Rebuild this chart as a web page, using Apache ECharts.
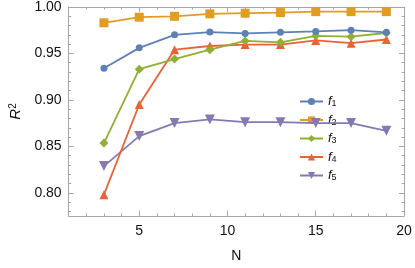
<!DOCTYPE html>
<html><head><meta charset="utf-8">
<script src="https://cdn.jsdelivr.net/npm/echarts@6/dist/echarts.min.js"></script>
<style>html,body{margin:0;padding:0;background:#fff}#c{width:415px;height:268px}</style>
</head><body><div id="c"></div>
<script>
const N = [3, 5, 7, 9, 11, 13, 15, 17, 19];
const f1 = [0.934, 0.956, 0.970, 0.973, 0.9716, 0.9727, 0.9737, 0.975, 0.9727];
const f2 = [0.983, 0.989, 0.990, 0.9926, 0.9933, 0.994, 0.995, 0.995, 0.995];
const f3 = [0.8535, 0.933, 0.944, 0.954, 0.9635, 0.962, 0.969, 0.968, 0.972];
const f4 = [0.798, 0.895, 0.954, 0.958, 0.9596, 0.9596, 0.964, 0.961, 0.965];
const f5 = [0.8287, 0.861, 0.875, 0.879, 0.876, 0.876, 0.875, 0.875, 0.8667];
const xMajor = [5, 10, 15, 20];
const xMinor = [1,2,3,4,5,6,7,8,9,10,11,12,13,14,15,16,17,18,19,20];
const yMajor = [0.80, 0.85, 0.90, 0.95, 1.00];
const yMinor = [0.78,0.79,0.80,0.81,0.82,0.83,0.84,0.85,0.86,0.87,0.88,0.89,0.90,0.91,0.92,0.93,0.94,0.95,0.96,0.97,0.98,0.99,1.00];

const font = 'Liberation Sans, Arial, sans-serif';
const frameColor = '#a6a6a6';
const tickColor = '#a6a6a6';

function xAx(pos, vals, len, labels, line) {
  return {
    type: 'value', position: pos, min: 1, max: 20,
    axisLine: {show: line, lineStyle: {color: frameColor, width: 1}},
    axisTick: {show: true, inside: true, length: len, customValues: vals, lineStyle: {color: tickColor}},
    axisLabel: {show: labels, customValues: xMajor, color: '#111', fontSize: 14, fontFamily: font, margin: 8},
    splitLine: {show: false}
  };
}
function yAx(pos, vals, len, labels, line) {
  return {
    type: 'value', position: pos, min: 0.775, max: 1.0,
    axisLine: {show: line, lineStyle: {color: frameColor, width: 1}},
    axisTick: {show: true, inside: true, length: len, customValues: vals, lineStyle: {color: tickColor}},
    axisLabel: {show: labels, customValues: yMajor, color: '#111', fontSize: 14, fontFamily: font, margin: 7,
      formatter: v => v.toFixed(2)},
    splitLine: {show: false}
  };
}
const xAxes = [xAx('bottom', xMajor, 5, true, true), xAx('bottom', xMinor, 2.5, false, false),
               xAx('top', xMajor, 5, false, true), xAx('top', xMinor, 2.5, false, false)];
xAxes[0].name = 'N';
xAxes[0].nameLocation = 'middle';
xAxes[0].nameGap = 33;
xAxes[0].nameTextStyle = {color: '#111', fontSize: 14, fontFamily: font};
const yAxes = [yAx('left', yMajor, 5, true, true), yAx('left', yMinor, 2.5, false, false),
               yAx('right', yMajor, 5, false, true), yAx('right', yMinor, 2.5, false, false)];
yAxes[0].name = '{r|R}{s|2}';
yAxes[0].nameLocation = 'middle';
yAxes[0].nameGap = 36;
yAxes[0].nameRotate = 90;
yAxes[0].nameTextStyle = {color: '#111', fontFamily: font,
  rich: {r: {fontSize: 15, fontStyle: 'italic', fontFamily: font, color: '#111'},
         s: {fontSize: 10, verticalAlign: 'top', fontFamily: font, color: '#111', padding: [0,0,6,0]}}};

const colors = ['#5E81B5', '#E19C24', '#8FB032', '#EB6235', '#8778B3'];
const symbols = ['circle', 'rect', 'diamond', 'triangle', 'path://M0,0 L10,0 L5,9 Z'];
const sizes = [7, 9, 9, 9, 10];
const data = [f1, f2, f3, f4, f5];
const names = ['f1', 'f2', 'f3', 'f4', 'f5'];
const series = data.map((d, i) => ({
  name: names[i], type: 'line', xAxisIndex: 0, yAxisIndex: 0,
  data: N.map((n, j) => [n, d[j]]),
  symbol: symbols[i], symbolSize: sizes[i], showSymbol: true,
  lineStyle: {color: colors[i], width: 1.8},
  itemStyle: {color: colors[i]},
  z: 10 - i
}));

const chart = echarts.init(document.getElementById('c'), null, {renderer: 'canvas'});
chart.setOption({
  animation: false,
  backgroundColor: '#fff',
  grid: {left: 63, right: 11, top: 7, bottom: 49, containLabel: false},
  xAxis: xAxes,
  yAxis: yAxes,
  legend: {
    orient: 'vertical', left: 299, top: 95, itemWidth: 23, itemHeight: 9, itemGap: 5, padding: 0,
    data: names,
    formatter: n => '{i|f}{s|' + n.slice(1) + '}',
    textStyle: {fontFamily: font, color: '#111',
      rich: {i: {fontSize: 13, fontStyle: 'italic', fontFamily: font, color: '#111'},
             s: {fontSize: 9, verticalAlign: 'bottom', fontFamily: font, color: '#111', padding: [5,0,0,0]}}}
  },
  series: series
});
</script></body></html>
